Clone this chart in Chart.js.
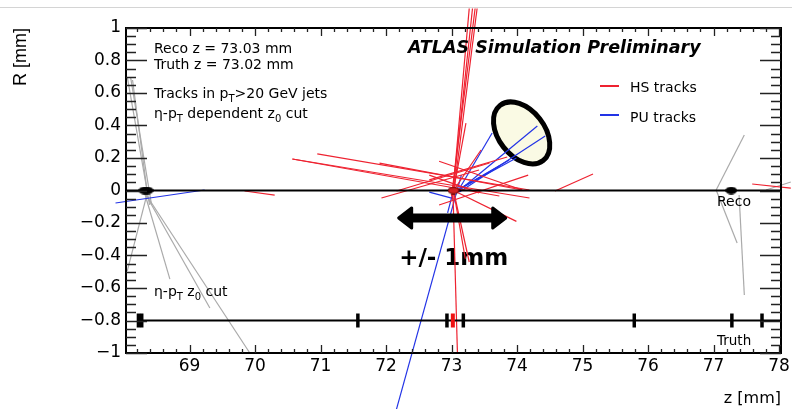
<!DOCTYPE html>
<html>
<head>
<meta charset="utf-8">
<script src="https://cdn.jsdelivr.net/npm/chart.js@4.4.1/dist/chart.umd.min.js"></script>
<style>
html, body { margin: 0; padding: 0; background: #fff; }
#wrap { width: 792px; height: 409px; }
</style>
</head>
<body>
<div id="wrap"><canvas id="vertexChart" width="792" height="409"></canvas></div>
<script>
// axis ranges and tick labels
const zRange = [68.03, 78.03];
const rRange = [-1, 1];
const zTicks = [69, 70, 71, 72, 73, 74, 75, 76, 77, 78];
const rTicks = [-1, -0.8, -0.6, -0.4, -0.2, 0, 0.2, 0.4, 0.6, 0.8, 1];

// tracks, each [z1, R1, z2, R2]
const hsTracks = [
  [73.01, -0.06, 73.27, 1.12],
  [73.01, -0.05, 73.32, 1.12],
  [73.00, -0.035, 73.36, 1.12],
  [73.03, -0.02, 73.39, 1.12],
  [73.03, 0.00, 73.22, 0.415],
  [73.02, 0.02, 73.09, -1.00],
  [73.03, 0.00, 73.27, -0.44],
  [73.03, 0.00, 73.21, -0.42],
  [73.03, 0.00, 73.99, -0.19],
  [70.57, 0.194, 74.19, -0.046],
  [70.57, 0.194, 73.73, -0.034],
  [70.95, 0.225, 74.19, 0.003],
  [71.93, -0.046, 73.42, 0.126],
  [72.16, -0.003, 73.58, 0.169],
  [71.90, 0.169, 74.08, 0.003],
  [69.84, -0.003, 70.30, -0.028],
  [74.58, -0.003, 75.16, 0.102],
  [77.59, 0.040, 78.18, 0.015],
  [72.81, -0.089, 74.17, 0.095],
  [72.81, 0.180, 74.08, 0.003],
  [72.66, 0.095, 73.42, -0.015],
  [73.03, 0.00, 73.45, 0.249],
  [72.66, 0.065, 73.85, 0.206]
];
const puTracks = [
  [67.87, -0.077, 69.23, 0.003],
  [73.15, 0.095, 72.16, -1.345],
  [73.09, -0.009, 73.62, 0.354],
  [73.09, -0.009, 74.31, 0.397],
  [73.12, -0.009, 74.43, 0.335],
  [73.09, 0.003, 73.88, 0.188],
  [73.09, 0.003, 73.99, 0.200],
  [72.66, -0.010, 73.03, -0.050],
  [73.03, 0.000, 72.94, -0.138],
  [73.09, 0.000, 73.73, 0.150]
];
const cutLines = [
  [68.05, 0.698, 68.39, -0.089],
  [68.10, 0.698, 68.42, -0.089],
  [68.13, 0.680, 68.36, -0.028],
  [68.36, -0.009, 68.05, -0.495],
  [68.31, -0.009, 68.70, -0.545],
  [68.31, -0.009, 69.31, -0.723],
  [68.31, -0.009, 69.92, -1.000],
  [77.04, 0.003, 77.47, 0.342],
  [77.04, 0.003, 77.36, -0.323],
  [77.39, -0.028, 77.47, -0.643],
  [77.80, 0.003, 78.18, 0.052]
];

// vertices
const recoZ = [68.31, 68.36, 73.03, 77.27];
const recoIsHS = [false, false, true, false];
const truthZ = [68.22, 68.27, 71.57, 72.93, 73.02, 73.18, 75.79, 77.28, 77.74];
const truthIsHS = [false, false, false, false, true, false, false, false, false];
const recoR = 0;
const truthR = -0.8;

const RED = '#ee2230';
const BLUE = '#2233e6';
const GREY = '#aaaaaa';
const FONT = "'DejaVu Sans', sans-serif";

function ellipseMarker(fill, stroke) {
    const c = document.createElement('canvas');
    c.width = 12; c.height = 8;
    const g = c.getContext('2d');
    g.beginPath();
    g.ellipse(6, 4, 5.5, 3.3, 0, 0, Math.PI * 2);
    g.fillStyle = fill; g.fill();
    g.lineWidth = 1; g.strokeStyle = stroke; g.stroke();
    return c;
}
const blackDot = ellipseMarker('#000', '#000');
const redDot = ellipseMarker('#d42020', '#5a0000');

function trackSets(list, color, order) {
    return list.map(t => ({
        data: [{ x: t[0], y: t[1] }, { x: t[2], y: t[3] }],
        showLine: true, borderColor: color, borderWidth: 1.2,
        pointRadius: 0, clip: false, order: order
    }));
}

const datasets = [
    {
        data: recoZ.map(z => ({ x: z, y: recoR })),
        pointStyle: recoZ.map((z, i) => recoIsHS[i] ? redDot : blackDot),
        pointRadius: 5, clip: false, order: 0
    },
    {
        data: truthZ.map(z => ({ x: z, y: truthR })),
        pointStyle: 'line', rotation: 90, pointRadius: 7,
        pointBorderWidth: truthZ.map((z, i) => truthIsHS[i] ? 4 : 3.5),
        pointBorderColor: truthZ.map((z, i) => truthIsHS[i] ? '#ee1111' : '#000'),
        clip: false, order: 0
    },
    {
        data: [{ x: zRange[0], y: recoR }, { x: zRange[1], y: recoR }],
        showLine: true, borderColor: '#000', borderWidth: 2, pointRadius: 0, clip: false, order: 1
    },
    {
        data: [{ x: truthZ[0], y: truthR }, { x: zRange[1], y: truthR }],
        showLine: true, borderColor: '#000', borderWidth: 2, pointRadius: 0, clip: false, order: 1
    }
].concat(trackSets(hsTracks, RED, 2), trackSets(puTracks, BLUE, 3), trackSets(cutLines, GREY, 4));

function richText(ctx, parts, x, y, size) {
    let cx = x;
    parts.forEach(p => {
        const sub = p[1] === 'sub';
        ctx.font = (sub ? Math.round(size * 0.7) : size) + 'px ' + FONT;
        ctx.fillText(p[0], cx, sub ? y + 4 : y);
        cx += ctx.measureText(p[0]).width;
    });
}

const decor = {
    id: 'decor',
    beforeDraw(chart) {
        const ctx = chart.ctx;
        ctx.save();
        ctx.fillStyle = '#fff';
        ctx.fillRect(0, 0, chart.width, chart.height);
        ctx.strokeStyle = '#d4d4d4'; ctx.lineWidth = 1;
        ctx.beginPath(); ctx.moveTo(0, 7.5); ctx.lineTo(chart.width, 7.5); ctx.stroke();
        ctx.restore();
    },
    beforeDatasetsDraw(chart) {
        const ctx = chart.ctx, xs = chart.scales.x, ys = chart.scales.y;
        ctx.save();
        // highlighted PU cone
        ctx.beginPath();
        ctx.ellipse(xs.getPixelForValue(74.07), ys.getPixelForValue(0.354), 35, 23, 52 * Math.PI / 180, 0, Math.PI * 2);
        ctx.fillStyle = '#fafae4'; ctx.fill();
        ctx.lineWidth = 5; ctx.strokeStyle = '#000'; ctx.stroke();
        // +/- 1mm label
        ctx.fillStyle = '#000';
        ctx.font = "bold 23px " + FONT;
        ctx.textBaseline = 'alphabetic';
        ctx.fillText('+/- 1mm', xs.getPixelForValue(72.2), ys.getPixelForValue(-0.458));
        ctx.restore();
    },
    afterDatasetsDraw(chart) {
        const ctx = chart.ctx, xs = chart.scales.x, ys = chart.scales.y, a = chart.chartArea;
        ctx.save();
        // double arrow
        const x1 = xs.getPixelForValue(72.17) + 1.5, x2 = xs.getPixelForValue(73.85) - 1.5;
        const y = ys.getPixelForValue(-0.169);
        const hl = 13, hh = 10, sh = 3;
        ctx.beginPath();
        ctx.moveTo(x1, y);
        ctx.lineTo(x1 + hl, y - hh); ctx.lineTo(x1 + hl, y - sh);
        ctx.lineTo(x2 - hl, y - sh); ctx.lineTo(x2 - hl, y - hh);
        ctx.lineTo(x2, y);
        ctx.lineTo(x2 - hl, y + hh); ctx.lineTo(x2 - hl, y + sh);
        ctx.lineTo(x1 + hl, y + sh); ctx.lineTo(x1 + hl, y + hh);
        ctx.closePath();
        ctx.fillStyle = '#000'; ctx.fill();
        ctx.lineJoin = 'round'; ctx.lineWidth = 3; ctx.strokeStyle = '#000'; ctx.stroke();

        // frame
        ctx.lineJoin = 'miter';
        ctx.lineWidth = 2; ctx.strokeStyle = '#000';
        ctx.strokeRect(a.left, a.top, a.right - a.left, a.bottom - a.top);

        // ROOT style inner ticks
        ctx.strokeStyle = '#222'; ctx.lineWidth = 1.3;
        ctx.beginPath();
        for (let i = 0; i <= 40; i++) {
            const v = -1 + i * 0.05;
            const major = i % 4 === 0;
            const len = major ? 21 : 10;
            const py = Math.round(ys.getPixelForValue(v)) + 0.5;
            ctx.moveTo(a.left, py); ctx.lineTo(a.left + len, py);
            ctx.moveTo(a.right, py); ctx.lineTo(a.right - len, py);
        }
        for (let i = 1; i <= 50; i++) {
            const v = 68 + i * 0.2;
            if (v > zRange[1]) break;
            const major = i % 5 === 0;
            const len = major ? 8 : 4;
            const px = Math.round(xs.getPixelForValue(v)) + 0.5;
            ctx.moveTo(px, a.bottom); ctx.lineTo(px, a.bottom - len);
            ctx.moveTo(px, a.top); ctx.lineTo(px, a.top + len);
        }
        ctx.stroke();

        // texts
        ctx.fillStyle = '#000';
        ctx.textBaseline = 'alphabetic';
        ctx.textAlign = 'left';
        const tx = a.left + 28;
        richText(ctx, [['Reco z = 73.03 mm']], tx, 53, 14);
        richText(ctx, [['Truth z = 73.02 mm']], tx, 69, 14);
        richText(ctx, [['Tracks in p'], ['T', 'sub'], ['>20 GeV jets']], tx, 98, 14);
        richText(ctx, [['\u03b7-p'], ['T', 'sub'], [' dependent z'], ['0', 'sub'], [' cut']], tx, 118, 14);
        richText(ctx, [['\u03b7-p'], ['T', 'sub'], [' z'], ['0', 'sub'], [' cut']], tx, 296, 14);

        ctx.font = "italic bold 17.5px " + FONT;
        ctx.fillText('ATLAS Simulation Preliminary', 408, 53);

        ctx.font = "14px " + FONT;
        ctx.fillText('Reco', 717, 206);
        ctx.font = "13.5px " + FONT;
        ctx.fillText('Truth', 717, 345);

        // legend
        ctx.lineWidth = 2;
        ctx.strokeStyle = RED;
        ctx.beginPath(); ctx.moveTo(600, 86); ctx.lineTo(619, 86); ctx.stroke();
        ctx.strokeStyle = BLUE;
        ctx.beginPath(); ctx.moveTo(600, 115); ctx.lineTo(619, 115); ctx.stroke();
        ctx.font = "14px " + FONT;
        ctx.fillText('HS tracks', 630, 92);
        ctx.fillText('PU tracks', 630, 122);

        // axis titles
        ctx.font = "16px " + FONT;
        ctx.textAlign = 'right';
        ctx.fillText('z [mm]', a.right, 403);
        ctx.save();
        ctx.translate(26, a.top);
        ctx.rotate(-Math.PI / 2);
        ctx.font = "18px 'Liberation Sans', sans-serif";
        ctx.fillText('R [mm]', 0, 0);
        ctx.restore();
        ctx.restore();
    }
};

new Chart(document.getElementById('vertexChart'), {
    type: 'scatter',
    data: { datasets: datasets },
    options: {
        responsive: false,
        animation: false,
        events: [],
        layout: { padding: { left: 0, top: 28, right: 10, bottom: 0 } },
        plugins: { legend: { display: false }, tooltip: { enabled: false } },
        scales: {
            x: {
                type: 'linear', min: zRange[0], max: zRange[1],
                grid: { display: false, drawTicks: false },
                border: { display: false },
                afterBuildTicks: s => { s.ticks = zTicks.map(v => ({ value: v })); },
                afterFit: s => { s.height = 56; s.paddingLeft = 0; s.paddingRight = 0; },
                ticks: {
                    maxRotation: 0, autoSkip: false, padding: 3, color: '#000',
                    font: { family: 'DejaVu Sans', size: 17 },
                    callback: v => String(v)
                }
            },
            y: {
                type: 'linear', min: rRange[0], max: rRange[1],
                grid: { display: false, drawTicks: false },
                border: { display: false },
                afterBuildTicks: s => { s.ticks = rTicks.map(v => ({ value: v })); },
                afterFit: s => { s.width = 126; s.paddingTop = 0; s.paddingBottom = 0; },
                ticks: {
                    autoSkip: false, padding: 5, color: '#000',
                    font: { family: 'DejaVu Sans', size: 17 },
                    callback: v => String(v).replace('-', '\u2212')
                }
            }
        }
    },
    plugins: [decor]
});
</script>
</body>
</html>
